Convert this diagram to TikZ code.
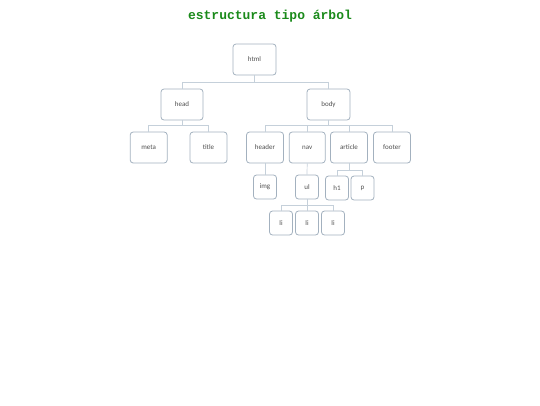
\documentclass[tikz,border=0pt]{standalone}
\usepackage{fontspec}
\setmainfont{Carlito}
\newfontfamily\monob{Liberation Mono}
\definecolor{boxline}{HTML}{A3B1BF}
\definecolor{conn}{HTML}{C5D0DA}
\definecolor{txt}{HTML}{505050}
\definecolor{ttl}{HTML}{1A8A1A}
\begin{document}
\begin{tikzpicture}[x=1pt,y=-1pt,
  nbox/.style={draw=boxline,line width=0.8pt,rounded corners=3pt,fill=white,
    minimum width=#1,minimum height=31pt,inner sep=0pt,font=\fontsize{7}{8}\selectfont,text=txt},
  nbox/.default=37pt,
  sbox/.style={nbox=23pt,minimum height=24pt},
  cn/.style={draw=conn,line width=0.7pt}]
\useasboundingbox (0,0) rectangle (540,405);
\node[font=\monob\bfseries\fontsize{13}{15}\selectfont,text=ttl] (title) at (270,16) {estructura tipo árbol};
% nodes
\node[nbox=43pt] (html) at (254.5,59.5) {html};
\node[nbox=42pt] (head) at (182,104.5) {head};
\node[nbox=43pt] (body) at (328.5,104.5) {body};
\node[nbox] (meta) at (148.7,147.5) {meta};
\node[nbox] (titl) at (208.5,147.5) {title};
\node[nbox] (header) at (265,147.5) {header};
\node[nbox=36pt] (nav) at (307.2,147.5) {nav};
\node[nbox] (article) at (349,147.5) {article};
\node[nbox] (footer) at (392,147.5) {footer};
\node[sbox] (img) at (265,187) {img};
\node[sbox] (ul) at (307,187) {ul};
\node[sbox] (h1) at (337,188) {h1};
\node[sbox] (p) at (362.5,188) {p};
\node[sbox] (li1) at (281,223) {li};
\node[sbox] (li2) at (307,223) {li};
\node[sbox] (li3) at (333,223) {li};
% connector junctions
\coordinate (j0) at (254.5,82);
\coordinate (j1) at (182,125.7);
\coordinate (j2) at (328.5,125.7);
\coordinate (j3) at (349,170);
\coordinate (j4) at (307,205);
% connectors
\draw[cn] (html.south) -- (j0);
\draw[cn] (j0) -| (head.north);
\draw[cn] (j0) -| (body.north);
\draw[cn] (head.south) -- (j1);
\draw[cn] (j1) -| (meta.north);
\draw[cn] (j1) -| (titl.north);
\draw[cn] (body.south) -- (j2);
\draw[cn] (j2) -| (header.north);
\draw[cn] (j2) -| (nav.north);
\draw[cn] (j2) -| (article.north);
\draw[cn] (j2) -| (footer.north);
\draw[cn] (header.south) -- (img.north);
\draw[cn] (nav.south) -- (ul.north);
\draw[cn] (article.south) -- (j3);
\draw[cn] (j3) -| (h1.north);
\draw[cn] (j3) -| (p.north);
\draw[cn] (ul.south) -- (j4);
\draw[cn] (j4) -| (li1.north);
\draw[cn] (j4) -- (li2.north);
\draw[cn] (j4) -| (li3.north);
\end{tikzpicture}
\end{document}
